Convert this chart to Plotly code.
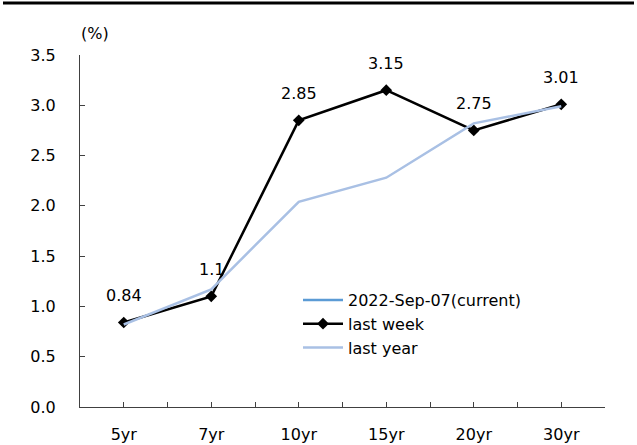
import plotly.graph_objects as go

# Treasury yield curve by tenor
tenors = ["5yr", "7yr", "10yr", "15yr", "20yr", "30yr"]
current = [None, None, None, None, None, None]
last_week = [0.84, 1.1, 2.85, 3.15, 2.75, 3.01]
last_year = [0.82, 1.17, 2.04, 2.28, 2.82, 2.99]
y_ticks = [0.0, 0.5, 1.0, 1.5, 2.0, 2.5, 3.0, 3.5]

FONT = "DejaVu Sans"
FS = 16
xpos = list(range(len(tenors)))

fig = go.Figure()
fig.add_trace(go.Scatter(
    x=xpos, y=current, name="2022-Sep-07(current)", mode="lines",
    line=dict(color="#5B9BD5", width=2.5),
))
fig.add_trace(go.Scatter(
    x=xpos, y=last_week, name="last week", mode="lines+markers",
    line=dict(color="#000000", width=2.5),
    marker=dict(symbol="diamond", size=9, color="#000000"),
))
fig.add_trace(go.Scatter(
    x=xpos, y=last_year, name="last year", mode="lines",
    line=dict(color="#A9C0E4", width=2.5),
))

# value labels above the weekly series
for xi, v in zip(xpos, last_week):
    fig.add_annotation(
        x=xi, y=v, text=f"{v:g}", showarrow=False, yshift=27,
        font=dict(family=FONT, size=FS, color="#000000"),
    )

# unit label
fig.add_annotation(
    x=-0.33, y=3.5, xref="x", yref="y", text="(%)", showarrow=False,
    yshift=22, font=dict(family=FONT, size=FS, color="#000000"),
)

# heavy rule across the top of the page
fig.add_shape(
    type="line", xref="paper", yref="paper",
    x0=(3 - 80) / 525, x1=(634 - 80) / 525,
    ysizemode="pixel", yanchor=1, y0=52, y1=52,
    line=dict(color="#000000", width=3),
)

half_ticks = [i * 0.5 - 0.5 for i in range(13)]
half_text = [tenors[int(t)] if float(t).is_integer() else "" for t in half_ticks]

fig.update_layout(
    width=637, height=445,
    margin=dict(l=80, r=32, t=55, b=38, autoexpand=False),
    paper_bgcolor="white", plot_bgcolor="white",
    font=dict(family=FONT, size=FS, color="#000000"),
    showlegend=True,
    legend=dict(
        x=(298 - 80) / 525, y=(407 - 283) / 352, xanchor="left", yanchor="top",
        bgcolor="rgba(0,0,0,0)", font=dict(family=FONT, size=FS),
        tracegroupgap=0, itemwidth=40,
    ),
    xaxis=dict(
        range=[-0.5, 5.5], tickmode="array", tickvals=half_ticks, ticktext=half_text,
        showgrid=False, zeroline=False, showline=True, linecolor="#404040", linewidth=1,
        ticks="inside", ticklen=5, tickcolor="#404040", ticklabelstandoff=13,
        fixedrange=True, automargin=False,
    ),
    yaxis=dict(
        range=[0, 3.5], tickmode="array", tickvals=y_ticks,
        ticktext=[f"{t:.1f}" for t in y_ticks],
        showgrid=False, zeroline=False, showline=True, linecolor="#404040", linewidth=1,
        ticks="inside", ticklen=5, tickcolor="#404040", ticklabelstandoff=20,
        fixedrange=True, automargin=False,
    ),
)

fig.write_html("out.html")
